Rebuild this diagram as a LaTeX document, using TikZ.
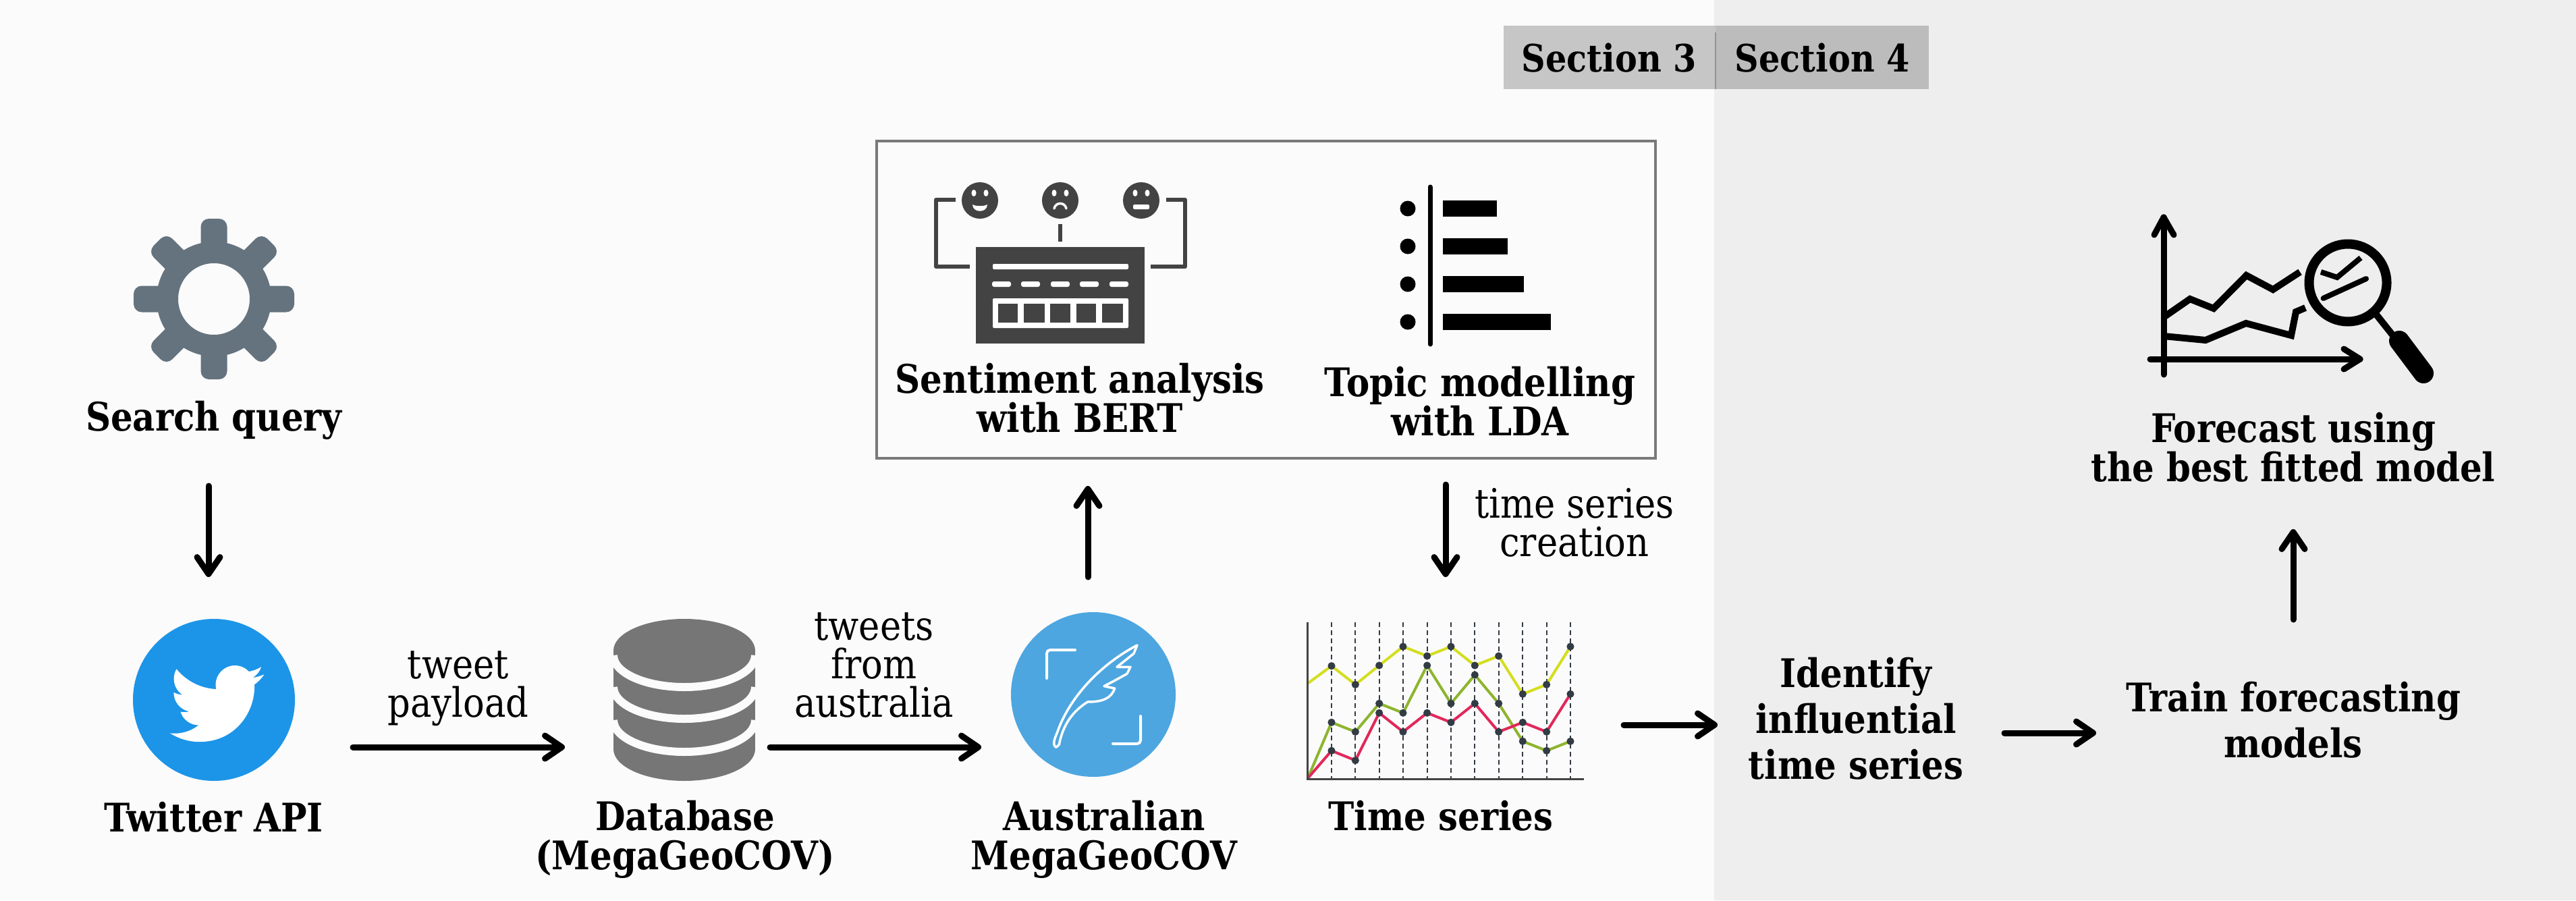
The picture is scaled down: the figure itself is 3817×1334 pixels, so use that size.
\documentclass[tikz,border=0pt]{standalone}
\usepackage{fontspec}
\setmainfont{DejaVu Serif}
\newfontfamily\lab[FakeStretch=0.88]{DejaVu Serif}
\usetikzlibrary{arrows.meta}
\definecolor{bgl}{HTML}{FBFBFC}
\definecolor{bgr}{HTML}{EEEEEF}
\definecolor{secl}{HTML}{C6C6C6}
\definecolor{secr}{HTML}{BCBCBC}
\definecolor{gearc}{HTML}{65737E}
\definecolor{tw}{HTML}{1C95E8}
\definecolor{dbc}{HTML}{767676}
\definecolor{aus}{HTML}{4DA6E0}
\definecolor{iconk}{HTML}{434343}
\definecolor{dotc}{HTML}{333B44}
\definecolor{yel}{HTML}{D4DE1E}
\definecolor{grn}{HTML}{8DB52E}
\definecolor{rd}{HTML}{E2285A}
\tikzset{
  lb/.style={font=\lab\bfseries\fontsize{58.4}{58}\selectfont,inner sep=0pt,align=center,text=black},
  lr/.style={font=\lab\fontsize{60}{57}\selectfont,inner sep=0pt,align=center,text=black},
  conn/.style={line width=9pt,line cap=round,-{Straight Barb[length=25pt,width=34pt,round]}},
  wk/.style={line width=9pt,line cap=round,line join=round},
  seclab/.style={font=\lab\bfseries\fontsize{56}{58}\selectfont,inner sep=0pt,anchor=base}
}
\begin{document}
\begin{tikzpicture}[x=1pt,y=-1pt]
\useasboundingbox (0,0) rectangle (3817,1334);
\fill[bgl] (0,0) rectangle (2540,1334);
\fill[bgr] (2540,0) rectangle (3817,1334);
% section tabs
\fill[secl] (2228,38) rectangle (2542,132);
\fill[secr] (2542,38) rectangle (2858,132);
\draw[gray!85,line width=1.5pt] (2542,48) -- (2542,132);
\node[seclab] (sec3) at (2384,106) {Section 3};
\node[seclab] (sec4) at (2700,106) {Section 4};
% gear
\foreach \a in {0,45,...,315}
  \fill[gearc,rounded corners=12pt,rotate around={\a:(317,443)}] (297.5,324) rectangle (336.5,385);
\draw[gearc,line width=32pt] (317,443) circle[radius=69pt];
\node[lb,anchor=base] (query) at (317,638) {Search query};
% twitter
\node[circle,fill=tw,minimum size=240pt,inner sep=0pt] (twitter) at (317,1037) {};
\begin{scope}[shift={(252,973)},x=5.8pt,y=-5.8pt]
\fill[white] (23.953,4.57) .. controls (23.07,4.96) and (22.1,5.23) .. (21.128,5.345)
 .. controls (22.15,4.73) and (22.93,3.76) .. (23.291,2.622)
 .. controls (22.34,3.177) and (21.286,3.581) .. (20.164,3.806)
 .. controls (19.27,2.87) and (17.97,2.24) .. (16.57,2.24)
 .. controls (13.85,2.24) and (11.65,4.44) .. (11.65,7.16)
 .. controls (11.65,7.55) and (11.69,7.93) .. (11.78,8.288)
 .. controls (7.69,8.095) and (4.067,6.13) .. (1.64,3.162)
 .. controls (1.22,3.88) and (.974,4.73) .. (.974,5.637)
 .. controls (.974,7.347) and (1.844,8.85) .. (3.162,9.733)
 .. controls (2.36,9.71) and (1.6,9.49) .. (.934,9.117)
 -- (.934,9.177)
 .. controls (.934,11.55) and (2.62,13.55) .. (4.88,14.004)
 .. controls (4.17,14.19) and (3.4,14.23) .. (2.668,14.089)
 .. controls (3.3,16.04) and (5.1,17.46) .. (7.272,17.506)
 .. controls (5.58,18.83) and (3.47,19.61) .. (1.17,19.611)
 .. controls (.78,19.611) and (.391,19.588) .. (0,19.544)
 .. controls (2.18,20.94) and (4.77,21.753) .. (7.557,21.753)
 .. controls (16.61,21.753) and (21.555,14.257) .. (21.555,7.768)
 .. controls (21.555,7.558) and (21.555,7.348) .. (21.54,7.138)
 .. controls (22.5,6.44) and (23.34,5.57) .. (24,4.59) -- cycle;
\end{scope}
\node[lb,anchor=base] (twlab) at (317,1232) {Twitter API};
% database
\fill[dbc] (909,964) rectangle (1119,1110);
\fill[dbc] (1014,964) ellipse[x radius=105pt,y radius=47pt];
\fill[dbc] (1014,1110) ellipse[x radius=105pt,y radius=47pt];
\foreach \c in {971,1018,1067}
  \draw[bgl,line width=12pt] (909,\c) arc[start angle=180,end angle=360,x radius=105pt,y radius=47pt];
\node[lb,anchor=base] (dblab) at (1015,1288) {Database\\(MegaGeoCOV)};
% Australian
\node[circle,fill=aus,minimum size=244pt,inner sep=0pt] (ausc) at (1620,1029) {};
\draw[white,line width=4pt,line cap=round,rounded corners=5pt] (1551,1005) -- (1551,963) -- (1593,963);
\draw[white,line width=4pt,line cap=round,rounded corners=5pt] (1690,1061) -- (1690,1102) -- (1649,1102);
\begin{scope}[shift={(1450,890)},x=.3333pt,y=-.3333pt]
\draw[white,line width=3.5pt,line join=round] (345,652) .. controls (325,640) and (340,610) .. (350,585)
 .. controls (400,440) and (530,290) .. (705,198)
 -- (690,235) -- (615,295) -- (675,295) -- (660,325) -- (600,358) -- (558,380) -- (605,390)
 .. controls (590,435) and (550,450) .. (485,450)
 .. controls (420,490) and (375,550) .. (358,640) -- cycle;
\end{scope}
\node[lb,anchor=base] (auslab) at (1636,1288) {Australian\\MegaGeoCOV};
% topics box
\node[draw=gray!95!black,line width=4pt,minimum width=1154pt,minimum height=470pt,inner sep=0pt] (box) at (1876,444) {};
% sentiment icon
\draw[iconk,line width=6pt,line join=round] (1416,296) -- (1387,296) -- (1387,395) -- (1437,395);
\draw[iconk,line width=6pt,line join=round] (1728,296) -- (1756,296) -- (1756,395) -- (1705,395);
\draw[iconk,line width=6pt] (1571,332) -- (1571,358);
\fill[iconk] (1446,366) rectangle (1696,509);
\fill[white,rounded corners=2pt] (1471,391) rectangle (1672,399);
\foreach \x in {1484,1527,1571,1614,1658}
  \fill[white,rounded corners=3pt] (\x-14,417) rectangle (\x+14,425);
\fill[white,rounded corners=2pt] (1471,442) rectangle (1672,486);
\foreach \x/\w in {1479/1508,1517/1548,1556/1586,1595/1624,1633/1664}
  \fill[iconk] (\x,450) rectangle (\w,478);
\foreach \x in {1452,1571,1691} {
  \fill[iconk] (\x,297) circle[radius=27pt];
  \fill[white] (\x-9,286) ellipse[x radius=3.5pt,y radius=5pt];
  \fill[white] (\x+9,286) ellipse[x radius=3.5pt,y radius=5pt];
}
\fill[white] (1441,303) .. controls (1446,306) and (1458,306) .. (1463,303) .. controls (1463,316) and (1441,316) .. (1441,303) -- cycle;
\draw[white,line width=3.5pt,line cap=round] (1562,309) .. controls (1564,299) and (1578,299) .. (1580,309);
\fill[white,rounded corners=2pt] (1679,303) rectangle (1703,310);
\node[lb,anchor=base] (sentlab) at (1600,640) {Sentiment analysis\\with BERT};
% topic icon
\draw[black,line width=7pt,line cap=round] (2119,277) -- (2119,510);
\foreach \y/\w in {309/2218,365/2234,421/2258,477/2298} {
  \fill[black] (2086,\y) circle[radius=11.5pt];
  \fill[black] (2138,\y-12) rectangle (\w,\y+12);
}
\node[lb,anchor=base] (topiclab) at (2193,645) {Topic modelling\\with LDA};
% time series chart
\begin{scope}[shift={(1900,900)},x=.3333pt,y=-.3333pt]
\foreach \x in {219,325,431,537,644,750,856,962,1069,1175,1281}
  \draw[dotc,line width=1.7pt,dash pattern=on 7pt off 5pt] (\x,65) -- (\x,760);
\draw[yel,line width=4pt,line join=round] (113,338) -- (219,260) -- (325,343) -- (431,258) -- (537,174) -- (644,216) -- (750,174) -- (856,258) -- (962,216) -- (1069,385) -- (1175,343) -- (1281,174);
\draw[grn,line width=4pt,line join=round] (113,760) -- (219,511) -- (325,553) -- (431,427) -- (537,469) -- (644,258) -- (750,427) -- (856,300) -- (962,427) -- (1069,595) -- (1175,637) -- (1281,595);
\draw[rd,line width=4pt,line join=round] (113,760) -- (219,637) -- (325,680) -- (431,469) -- (537,553) -- (644,469) -- (750,511) -- (856,427) -- (962,553) -- (1069,511) -- (1175,553) -- (1281,385);
\foreach \x/\y in {219/260,325/343,431/258,537/174,644/216,750/174,856/258,962/216,1069/385,1175/343,1281/174,
  219/511,325/553,431/427,537/469,644/258,750/427,856/300,962/427,1069/595,1175/637,1281/595,
  219/637,325/680,431/469,537/553,644/469,750/511,856/427,962/553,1069/511,1175/553,1281/385}
  \fill[dotc] (\x,\y) circle[radius=5.6pt];
\draw[iconk,line width=2.8pt] (113,65) -- (113,763) -- (1340,763);
\end{scope}
\node[lb,anchor=base] (tslab) at (2135,1230) {Time series};
% forecast icon
\draw[black,wk] (3206,322) -- (3206,555);
\draw[black,wk] (3192,348) -- (3206,322) -- (3221,348);
\draw[black,wk] (3186,532) -- (3497,532);
\draw[black,wk] (3473,517) -- (3497,532) -- (3473,547);
\draw[black,line width=10pt,line join=miter] (3206,470) -- (3245,443) -- (3280,457) -- (3328.5,408) -- (3368,429) -- (3408,403);
\draw[black,line width=10pt,line join=miter] (3206,498) -- (3268,504) -- (3328,479) -- (3395,497) -- (3402,462) -- (3416,456);
\draw[black,line width=14pt] (3479,419) circle[radius=57.5pt];
\draw[black,line width=8pt] (3439,403) -- (3463,411) -- (3498,382);
\draw[black,line width=8pt,line cap=round] (3442.5,442) -- (3506,413);
\draw[black,line width=10pt] (3521,466) -- (3552,505);
\draw[black,line width=30pt,line cap=round] (3555,505) -- (3591,553);
\node[lb,anchor=base] (fclab) at (3398,713) {Forecast using\\the best fitted model};
% plain labels
\node[lb,anchor=base,font=\lab\bfseries\fontsize{58.4}{68}\selectfont] (ident) at (2750,1154) {Identify\\influential\\time series};
\node[lb,anchor=base,font=\lab\bfseries\fontsize{58.4}{68}\selectfont] (train) at (3398,1122) {Train forecasting\\models};
\node[lr,anchor=base] (lb1) at (679,1062) {tweet\\payload};
\node[lr,anchor=base] (lb2) at (1295,1062) {tweets\\from\\australia};
\node[lr,anchor=base] (lb3) at (2333,824) {time series\\creation};
% connectors
\coordinate (c1a) at (309,720); \coordinate (c1b) at (309,855);
\coordinate (c2a) at (523,1107); \coordinate (c2b) at (837,1107);
\coordinate (c3a) at (1141,1107); \coordinate (c3b) at (1454,1107);
\coordinate (c4a) at (1612,855); \coordinate (c4b) at (1612,720);
\coordinate (c5a) at (2142,718); \coordinate (c5b) at (2142,855);
\coordinate (c6a) at (2406,1074); \coordinate (c6b) at (2545,1074);
\coordinate (c7a) at (2970,1086); \coordinate (c7b) at (3106,1086);
\coordinate (c8a) at (3398,918); \coordinate (c8b) at (3398,784);
\foreach \i in {1,...,8} \draw[conn] (c\i a) -- (c\i b);
\end{tikzpicture}
\end{document}
